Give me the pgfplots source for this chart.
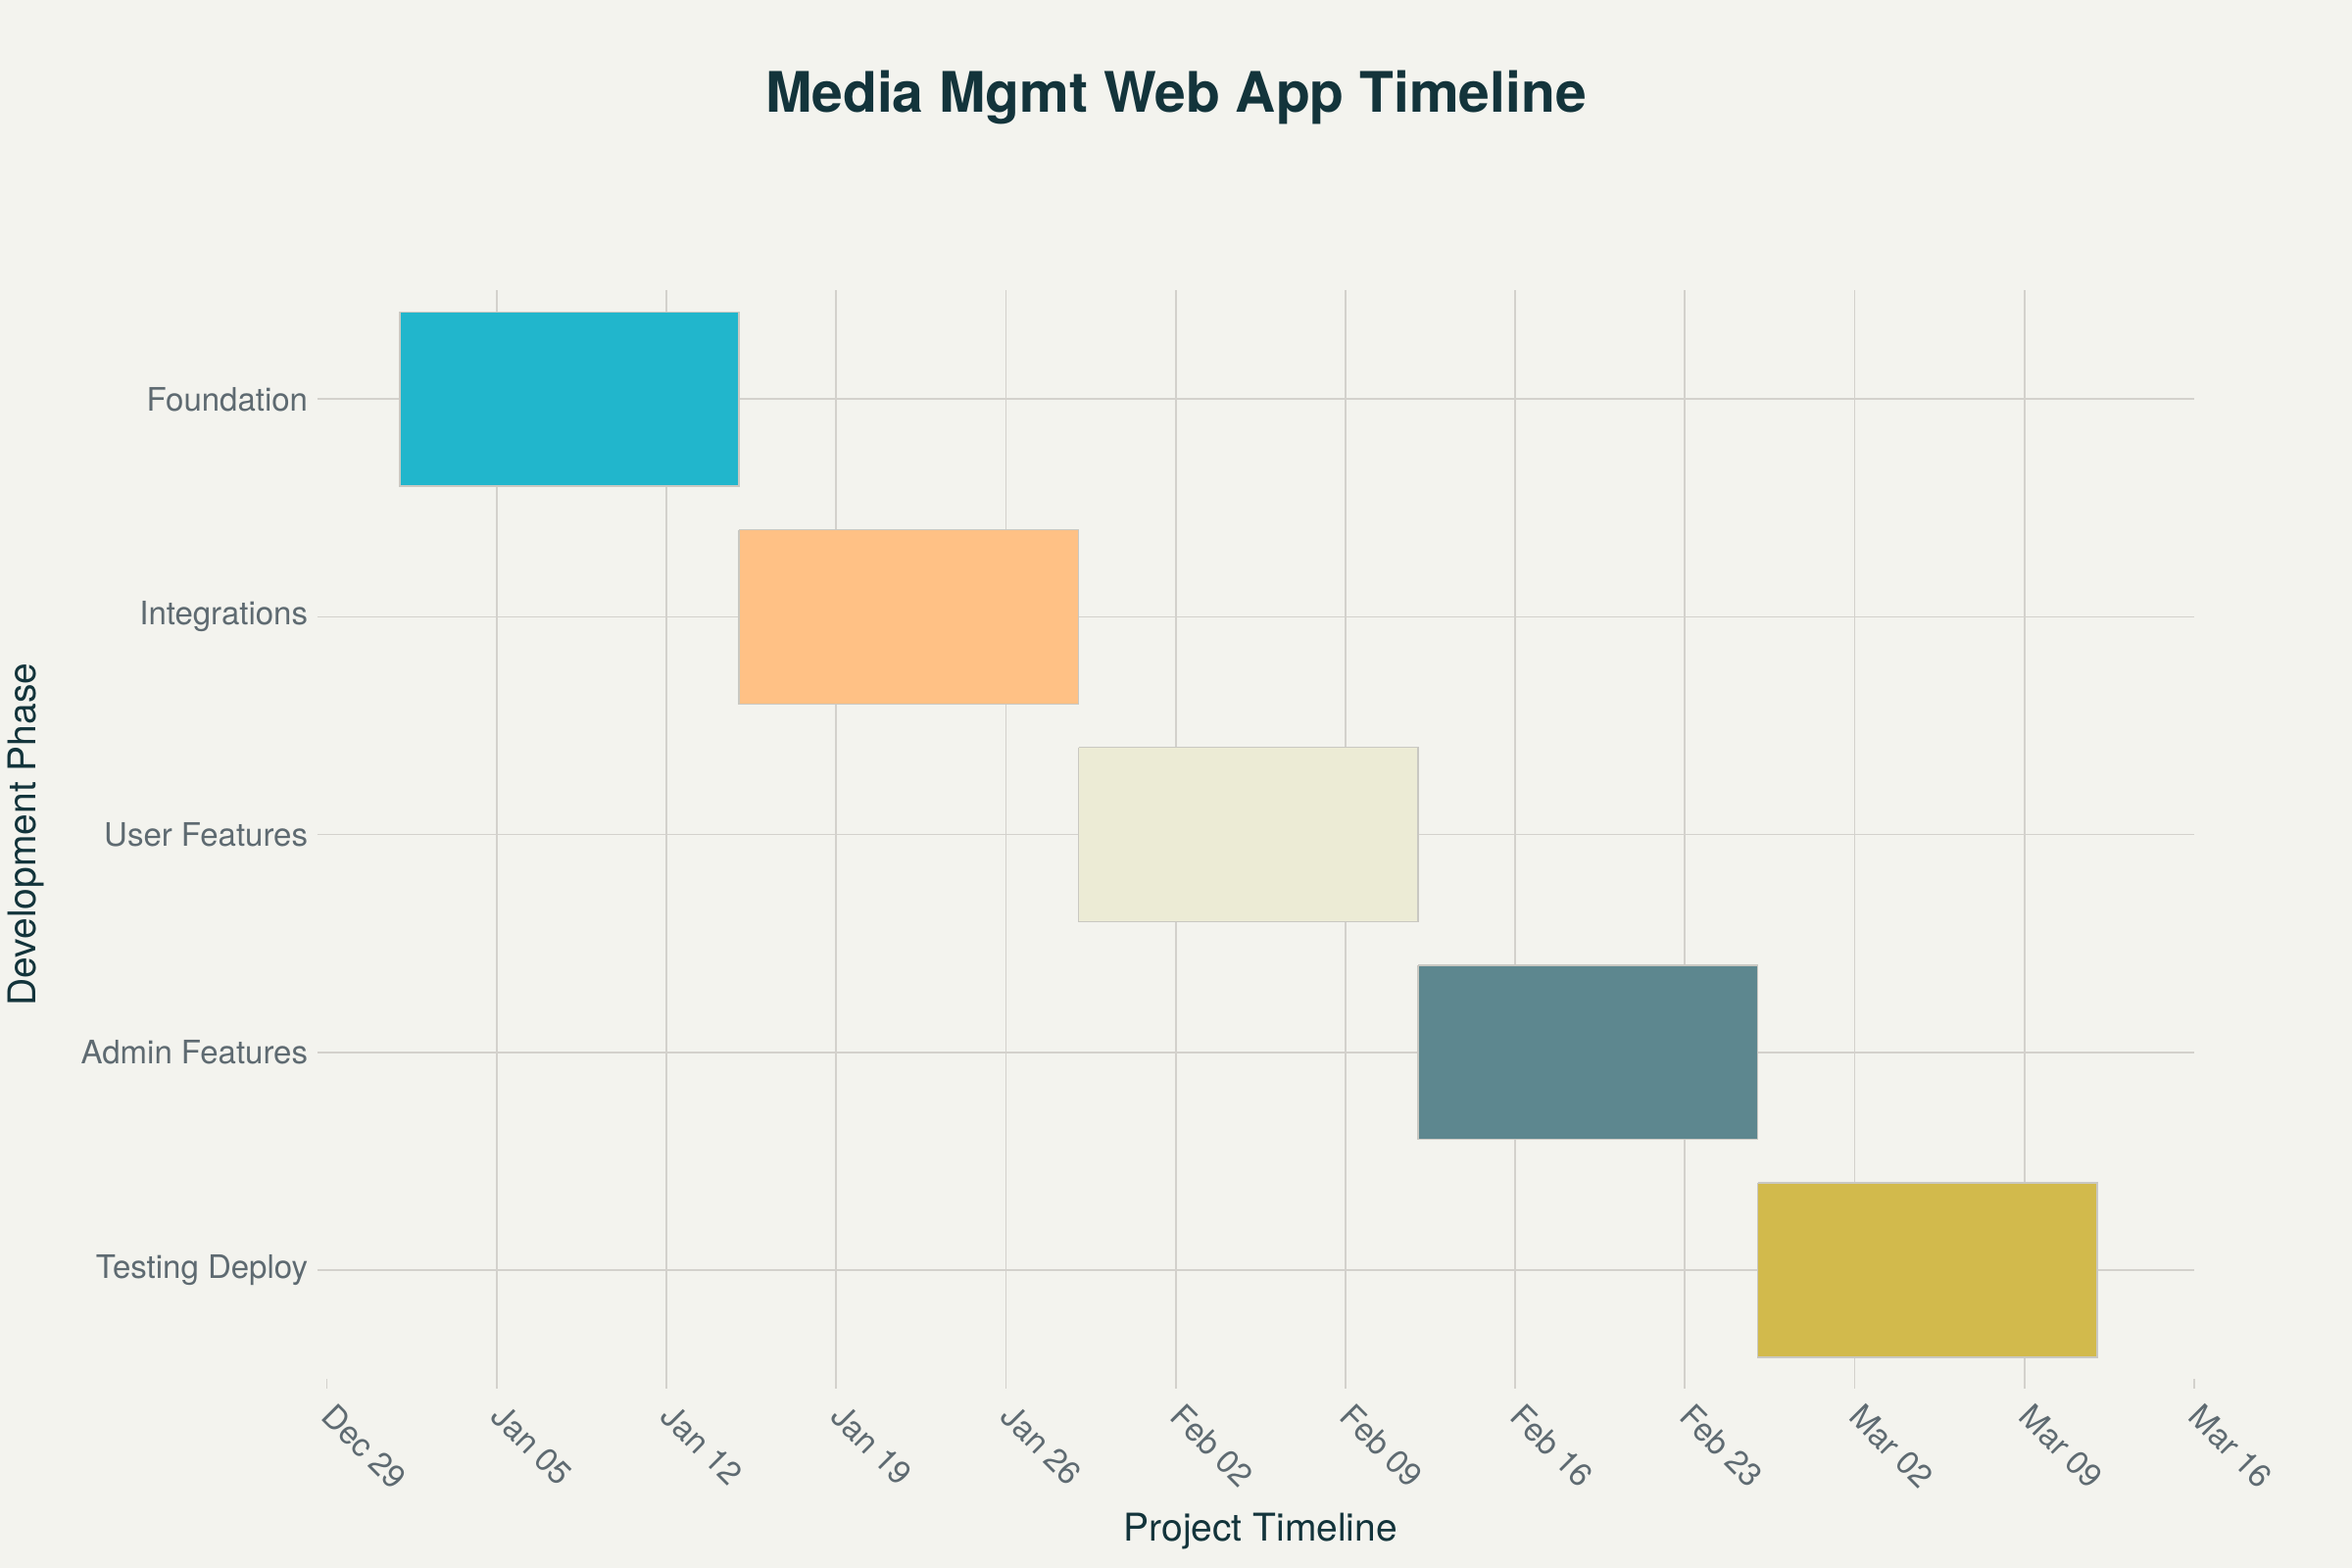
\documentclass[border=0pt]{standalone}
\usepackage{pgfplots}
\pgfplotsset{compat=1.18}
\usepackage{fontspec}
\setmainfont{TeX Gyre Heros}
\definecolor{bg}{HTML}{F3F3EE}
\definecolor{gridc}{HTML}{D3D1CC}
\definecolor{tickc}{HTML}{5E6A71}
\definecolor{titlec}{HTML}{13343B}
\definecolor{borderc}{HTML}{C9C8C2}
\definecolor{c1}{HTML}{21B6CC}
\definecolor{c2}{HTML}{FFC185}
\definecolor{c3}{HTML}{ECEBD5}
\definecolor{c4}{HTML}{5D878F}
\definecolor{c5}{HTML}{D2BA4C}
\begin{document}
\begin{tikzpicture}
\useasboundingbox (-111.2pt,-64.33pt) rectangle (688.8pt,469pt);
\fill[bg] (-111.2pt,-64.33pt) rectangle (688.8pt,469pt);
\begin{axis}[
  at={(0pt,0pt)}, anchor=south west,
  scale only axis, width=635.1pt, height=370.3pt,
  xmin=0, xmax=77, ymin=-0.5, ymax=4.5, y dir=reverse,
  axis line style={draw=none},
  xtick={7,14,21,28,35,42,49,56,63,70},
  xticklabels={Jan 05,Jan 12,Jan 19,Jan 26,Feb 02,Feb 09,Feb 16,Feb 23,Mar 02,Mar 09},
  extra x ticks={0,77},
  extra x tick labels={Dec 29,Mar 16},
  extra x tick style={grid=none},
  ytick={0,1,2,3,4},
  yticklabels={Foundation,Integrations,User Features,Admin Features,Testing Deploy},
  xtick pos=bottom, ytick pos=left,
  tick align=outside, major tick length=3.3pt,
  tick style={gridc, line width=0.6pt},
  grid=major, major grid style={gridc, line width=0.6pt},
  ticklabel style={font=\fontsize{11}{13}\selectfont, text=tickc},
  xticklabel style={rotate=-45, anchor=north west, inner sep=0pt, xshift=5.4pt, yshift=-0.7pt},
  yticklabel style={anchor=east, inner sep=0pt, xshift=-3pt},
  xlabel={Project Timeline},
  ylabel={Development Phase},
  label style={font=\fontsize{13}{15}\selectfont, text=titlec},
  xlabel style={at={(axis description cs:0.5,-0.1404)}, anchor=center},
  ylabel style={at={(axis description cs:-0.1614,0.5)}, anchor=center},
  clip=false,
]
\addplot[fill=c1, draw=borderc, line width=0.5pt] coordinates {(3,-0.4) (17,-0.4) (17,0.4) (3,0.4) (3,-0.4)};
\addplot[fill=c2, draw=borderc, line width=0.5pt] coordinates {(17,0.6) (31,0.6) (31,1.4) (17,1.4) (17,0.6)};
\addplot[fill=c3, draw=borderc, line width=0.5pt] coordinates {(31,1.6) (45,1.6) (45,2.4) (31,2.4) (31,1.6)};
\addplot[fill=c4, draw=borderc, line width=0.5pt] coordinates {(45,2.6) (59,2.6) (59,3.4) (45,3.4) (45,2.6)};
\addplot[fill=c5, draw=borderc, line width=0.5pt] coordinates {(59,3.6) (73,3.6) (73,4.4) (59,4.4) (59,3.6)};
\end{axis}
\node[font=\fontsize{19}{22}\selectfont\bfseries, text=titlec] at (288.8pt,435.7pt) {Media Mgmt Web App Timeline};
\end{tikzpicture}
\end{document}
